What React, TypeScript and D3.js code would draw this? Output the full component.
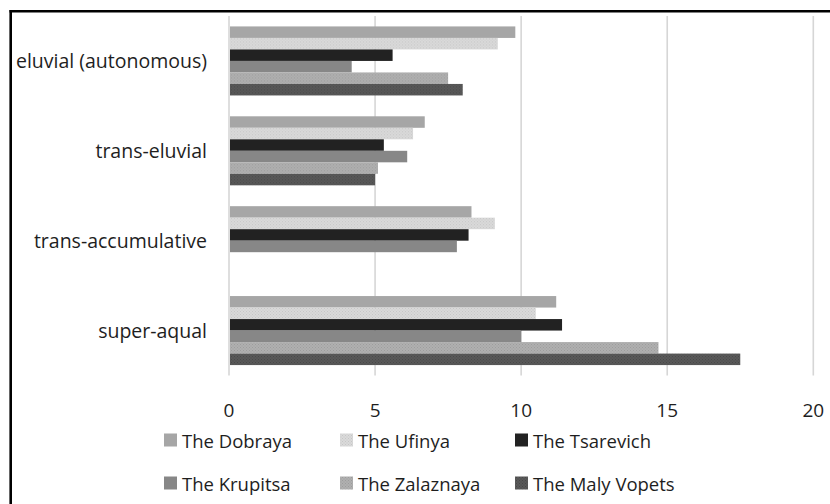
import React from "react";
import * as d3 from "d3";

const WIDTH = 830;
const HEIGHT = 504;
const MARGIN = { top: 16, left: 229, right: 16.7, bottom: 128.5 };

const categories = ["eluvial (autonomous)", "trans-eluvial", "trans-accumulative", "super-aqual"];
const seriesNames = ["The Dobraya", "The Ufinya", "The Tsarevich", "The Krupitsa", "The Zalaznaya", "The Maly Vopets"];
const seriesColors = ["#a6a6a6", "#dadada", "#222222", "#878787", "#b0b0b0", "#595959"];
// dotted texture on some series (null = plain fill)
const seriesDots = [null, "#c6c6c6", null, null, "#9c9c9c", "#484848"];

// values per series, in category order
const dobraya = [9.8, 6.7, 8.3, 11.2];
const ufinya = [9.2, 6.3, 9.1, 10.5];
const tsarevich = [5.6, 5.3, 8.2, 11.4];
const krupitsa = [4.2, 6.1, 7.8, 10.0];
const zalaznaya = [7.5, 5.1, 0, 14.7];
const malyVopets = [8.0, 5.0, 0, 17.5];

const seriesValues = [dobraya, ufinya, tsarevich, krupitsa, zalaznaya, malyVopets];
const xTicks = [0, 5, 10, 15, 20];

const FONT = "'Open Sans', sans-serif";
const TEXT = "#1e1e1e";

export default function App() {
  const x = d3
    .scaleLinear()
    .domain([0, 20])
    .range([MARGIN.left, WIDTH - MARGIN.right]);
  const y = d3
    .scaleBand()
    .domain(categories)
    .range([MARGIN.top, HEIGHT - MARGIN.bottom])
    .paddingInner(0.232)
    .paddingOuter(0.116);
  const inner = d3
    .scaleBand()
    .domain(seriesNames)
    .range([0, y.bandwidth()]);

  const legendCols = [164, 340, 515];
  const legendRows = [440, 483];

  const fillFor = (i: number) => (seriesDots[i] ? `url(#dots${i})` : seriesColors[i]);

  return (
    <div style={{ position: "fixed", left: 0, top: 0 }}>
      <svg width={WIDTH} height={HEIGHT} style={{ display: "block", background: "#fff" }}>
        <defs>
          {seriesDots.map((d, i) =>
            d ? (
              <pattern key={i} id={`dots${i}`} width={3} height={3} patternUnits="userSpaceOnUse">
                <rect width={3} height={3} fill={seriesColors[i]} />
                <rect x={0} y={0} width={1} height={1} fill={d} />
                <rect x={1.5} y={1.5} width={1} height={1} fill={d} />
              </pattern>
            ) : null
          )}
        </defs>

        {/* border */}
        <line x1={9.5} y1={11.2} x2={WIDTH} y2={11.2} stroke="#000" strokeWidth={2.6} />
        <line x1={10.7} y1={10} x2={10.7} y2={HEIGHT} stroke="#000" strokeWidth={2.6} />

        {/* gridlines */}
        {xTicks.map(t => (
          <line
            key={t}
            x1={x(t)}
            x2={x(t)}
            y1={MARGIN.top}
            y2={HEIGHT - MARGIN.bottom}
            stroke="#d6d6d6"
            strokeWidth={1.6}
          />
        ))}

        {/* bars */}
        {categories.map((c, ci) => (
          <g key={c} transform={`translate(0,${y(c)})`}>
            {seriesNames.map((s, si) => {
              const v = seriesValues[si][ci];
              if (!v) return null;
              return (
                <rect
                  key={s}
                  x={x(0) + 1}
                  y={inner(s)}
                  width={x(v) - x(0) - 1}
                  height={inner.bandwidth()}
                  fill={fillFor(si)}
                />
              );
            })}
          </g>
        ))}

        {/* category labels */}
        {categories.map(c => (
          <text
            key={c}
            x={207}
            y={y(c) + y.bandwidth() / 2}
            textAnchor="end"
            dominantBaseline="central"
            fontFamily={FONT}
            fontSize={19.5}
            fill={TEXT}
          >
            {c}
          </text>
        ))}

        {/* x tick labels */}
        {xTicks.map(t => (
          <text
            key={t}
            x={x(t)}
            y={410}
            textAnchor="middle"
            dominantBaseline="central"
            fontFamily={FONT}
            fontSize={19}
            fill={TEXT}
          >
            {t}
          </text>
        ))}

        {/* legend */}
        {seriesNames.map((s, i) => {
          const lx = legendCols[i % 3];
          const ly = legendRows[Math.floor(i / 3)];
          return (
            <g key={s}>
              <rect x={lx} y={ly - 6.5} width={13} height={13} fill={fillFor(i)} />
              <text
                x={lx + 18}
                y={ly}
                dominantBaseline="central"
                fontFamily={FONT}
                fontSize={18.5}
                fill={TEXT}
              >
                {s}
              </text>
            </g>
          );
        })}
      </svg>
    </div>
  );
}
